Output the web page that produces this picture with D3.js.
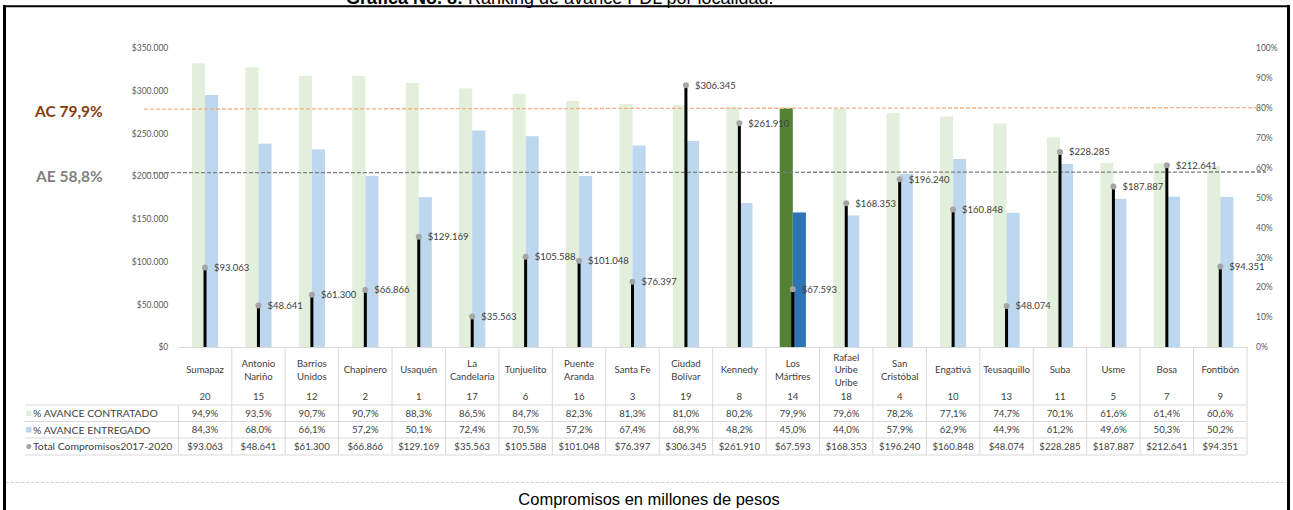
<!DOCTYPE html>
<html><head><meta charset="utf-8">
<script src="https://cdn.jsdelivr.net/npm/d3@7/dist/d3.min.js"></script>
<style>body{margin:0;background:#fff}svg{display:block}</style>
</head><body>
<svg id="c" width="1293" height="510"></svg>
<script>
const categories = ["Sumapaz","Antonio Nariño","Barrios Unidos","Chapinero","Usaquén","La Candelaria","Tunjuelito","Puente Aranda","Santa Fe","Ciudad Bolívar","Kennedy","Los Mártires","Rafael Uribe Uribe","San Cristóbal","Engativá","Teusaquillo","Suba","Usme","Bosa","Fontibón"];
const categoryLabels = ["Sumapaz","Antonio\nNariño","Barrios\nUnidos","Chapinero","Usaquén","La\nCandelaria","Tunjuelito","Puente\nAranda","Santa Fe","Ciudad\nBolívar","Kennedy","Los\nMártires","Rafael\nUribe\nUribe","San\nCristóbal","Engativá","Teusaquillo","Suba","Usme","Bosa","Fontibón"];
const ranking = [20,15,12,2,1,17,6,16,3,19,8,14,18,4,10,13,11,5,7,9];
const avanceContratado = [94.9,93.5,90.7,90.7,88.3,86.5,84.7,82.3,81.3,81.0,80.2,79.9,79.6,78.2,77.1,74.7,70.1,61.6,61.4,60.6];
const avanceEntregado = [84.3,68.0,66.1,57.2,50.1,72.4,70.5,57.2,67.4,68.9,48.2,45.0,44.0,57.9,62.9,44.9,61.2,49.6,50.3,50.2];
const totalCompromisos = [93063,48641,61300,66866,129169,35563,105588,101048,76397,306345,261910,67593,168353,196240,160848,48074,228285,187887,212641,94351];
const highlight = "Los Mártires";
const refAC = 79.9, refAE = 58.8;
const leftTicks = [0,50000,100000,150000,200000,250000,300000,350000];
const rightTicks = [0,10,20,30,40,50,60,70,80,90,100];
const seriesNames = ["% AVANCE CONTRATADO","% AVANCE ENTREGADO","Total Compromisos2017-2020"];

const svg = d3.select("#c");
const F = "Lato, 'Open Sans', sans-serif";
const x0 = 178.3, x1 = 1247, yTop = 48, yBase = 347;
const x = d3.scaleBand().domain(categories).range([x0, x1]).padding(0);
const yVal = d3.scaleLinear().domain([0, 350000]).range([yBase, yTop]);
const yPct = d3.scaleLinear().domain([0, 100]).range([yBase, yTop]);
const bw = x.bandwidth() * 0.245;
const fmtMoney = v => "$" + d3.format(",")(v).replace(/,/g, ".");
const fmtPct = v => d3.format(".1f")(v).replace(".", ",") + "%";

// frame
svg.append("line").attr("x1",3).attr("x2",1290).attr("y1",6.3).attr("y2",6.3).attr("stroke","#000").attr("stroke-width",2);
svg.append("line").attr("x1",4.5).attr("x2",4.5).attr("y1",5).attr("y2",510).attr("stroke","#000").attr("stroke-width",3);
svg.append("line").attr("x1",1288.5).attr("x2",1288.5).attr("y1",5).attr("y2",510).attr("stroke","#000").attr("stroke-width",3);

// title (cut at top, as in the reference)
const t = svg.append("text").attr("x",346).attr("y",4).attr("font-family","'Liberation Sans', Arial, sans-serif").attr("font-size",18).attr("fill","#000");
t.append("tspan").attr("font-weight","bold").text("Gráfica No. 8:");
t.append("tspan").text(" Ranking de avance PDL por localidad.");

// left axis
const gl = svg.append("g").attr("transform",`translate(${x0 - 10},0)`)
  .call(d3.axisLeft(yVal).tickValues(leftTicks).tickFormat(fmtMoney).tickSize(0).tickPadding(0));
gl.select(".domain").remove();
gl.selectAll("text").attr("font-family",F).attr("font-size",8.5).attr("fill","#595959");

// right axis
const gr = svg.append("g").attr("transform",`translate(1256,0)`)
  .call(d3.axisRight(yPct).tickValues(rightTicks).tickFormat(d => d + "%").tickSize(0).tickPadding(0));
gr.select(".domain").remove();
gr.selectAll("text").attr("font-family",F).attr("font-size",8.5).attr("fill","#595959");

// bars
const idx = d3.range(categories.length);
svg.append("g").selectAll("rect").data(idx).join("rect")
  .attr("x", i => x(categories[i]) + x.bandwidth()/2 - bw)
  .attr("width", bw)
  .attr("y", i => yPct(avanceContratado[i]))
  .attr("height", i => yBase - yPct(avanceContratado[i]))
  .attr("fill", i => categories[i] === highlight ? "#548235" : "#E2EFDA");
svg.append("g").selectAll("rect").data(idx).join("rect")
  .attr("x", i => x(categories[i]) + x.bandwidth()/2)
  .attr("width", bw)
  .attr("y", i => yPct(avanceEntregado[i]))
  .attr("height", i => yBase - yPct(avanceEntregado[i]))
  .attr("fill", i => categories[i] === highlight ? "#2E75B6" : "#BDD7EE");

// reference lines
svg.append("line").attr("x1",144).attr("x2",1262).attr("y1",yPct(refAC)+1).attr("y2",yPct(refAC)-0.5)
  .attr("stroke","#F4B183").attr("stroke-width",1.3).attr("stroke-dasharray","4,2");
svg.append("line").attr("x1",147).attr("x2",1266).attr("y1",yPct(refAE)+1.5).attr("y2",yPct(refAE)+0.8)
  .attr("stroke","#7F7F7F").attr("stroke-width",1.3).attr("stroke-dasharray","4,2");
svg.append("text").attr("x",35).attr("y",117).attr("font-family",F).attr("font-weight","bold").attr("font-size",15.5).attr("fill","#843C0C").text("AC " + fmtPct(refAC));
svg.append("text").attr("x",36).attr("y",181.5).attr("font-family",F).attr("font-weight","bold").attr("font-size",15.5).attr("fill","#7F7F7F").text("AE " + fmtPct(refAE));

// x axis baseline
svg.append("line").attr("x1",x0).attr("x2",x1).attr("y1",yBase+0.5).attr("y2",yBase+0.5).attr("stroke","#D9D9D9").attr("stroke-width",1);

// stems + dots + labels
const cx = i => x(categories[i]) + x.bandwidth()/2;
svg.append("g").selectAll("line").data(idx).join("line")
  .attr("x1", cx).attr("x2", cx)
  .attr("y1", yBase).attr("y2", i => yVal(totalCompromisos[i]))
  .attr("stroke","#000").attr("stroke-width",3);
svg.append("g").selectAll("circle").data(idx).join("circle")
  .attr("cx", cx).attr("cy", i => yVal(totalCompromisos[i])).attr("r",3)
  .attr("fill","#A5A5A5");
svg.append("g").selectAll("text").data(idx).join("text")
  .attr("x", i => cx(i) + 9).attr("y", i => yVal(totalCompromisos[i]))
  .attr("dy","0.35em").attr("font-family",F).attr("font-size",9.5).attr("fill","#404040")
  .text(i => fmtMoney(totalCompromisos[i]));

// data table
const rowLines = [405, 421.5, 438, 455];
const gridC = "#D9D9D9";
rowLines.forEach(y => svg.append("line").attr("x1",25).attr("x2",x1).attr("y1",y).attr("y2",y).attr("stroke",gridC));
const bounds = d3.range(categories.length + 1).map(k => k === categories.length ? x1 : x(categories[k]));
svg.append("g").selectAll("line").data(bounds).join("line")
  .attr("x1", d => d).attr("x2", d => d).attr("y1", (d,k) => k === 0 ? 405 : yBase).attr("y2", 455)
  .attr("stroke", gridC);

// category labels
const gCat = svg.append("g");
idx.forEach(i => {
  const lines = categoryLabels[i].split("\n");
  const lh = 12.8;
  const y0 = 370 - (lines.length - 1) * lh / 2;
  const tx = gCat.append("text").attr("font-family",F).attr("font-size",9.6).attr("fill","#404040").attr("text-anchor","middle");
  lines.forEach((l, j) => tx.append("tspan").attr("x", cx(i)).attr("y", y0 + j*lh).attr("dy","0.35em").text(l));
});
const rowDefs = [
  {y: 397, vals: ranking.map(String)},
  {y: 413.5, vals: avanceContratado.map(fmtPct)},
  {y: 430, vals: avanceEntregado.map(fmtPct)},
  {y: 446.5, vals: totalCompromisos.map(fmtMoney)}
];
rowDefs.forEach(r => {
  svg.append("g").selectAll("text").data(idx).join("text")
    .attr("x", cx).attr("y", r.y).attr("dy","0.35em")
    .attr("font-family",F).attr("font-size",9.6).attr("fill","#404040").attr("text-anchor","middle")
    .text(i => r.vals[i]);
});
// legend keys
svg.append("rect").attr("x",26).attr("y",410.5).attr("width",5.5).attr("height",5.5).attr("fill","#E2EFDA");
svg.append("rect").attr("x",26).attr("y",427).attr("width",5.5).attr("height",5.5).attr("fill","#BDD7EE");
svg.append("circle").attr("cx",28.8).attr("cy",446.5).attr("r",2.5).attr("fill","#A5A5A5");
[413.5, 430, 446.5].forEach((y, k) => {
  svg.append("text").attr("x",33).attr("y",y).attr("dy","0.35em").attr("font-family",F).attr("font-size",10.4).attr("fill","#404040").text(seriesNames[k]);
});

// bottom separator + caption
svg.append("line").attr("x1",6).attr("x2",1287).attr("y1",482.5).attr("y2",482.5).attr("stroke","#D0D0D0").attr("stroke-dasharray","3,2");
svg.append("text").attr("x",649).attr("y",505).attr("text-anchor","middle").attr("font-family","'Liberation Sans', Arial, sans-serif").attr("font-size",16.5).attr("fill","#000").text("Compromisos en millones de pesos");
</script>
</body></html>
